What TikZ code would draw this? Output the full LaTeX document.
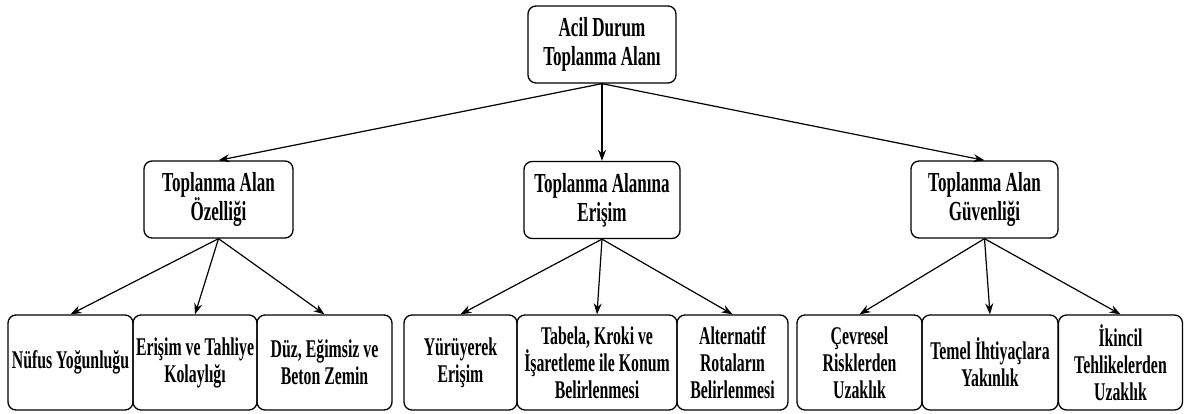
\documentclass[tikz,border=0pt]{standalone}
\usepackage{fontspec}
\usepackage{tikz}
\usetikzlibrary{arrows.meta}
\newfontfamily\boxfont[FakeStretch=0.62]{Liberation Serif}
\tikzset{>={Stealth[width=8pt,length=11pt]}}
\tikzset{
  box/.style={draw, line width=1.3pt, rounded corners=8pt, align=center,
    inner sep=0pt},
  topbox/.style={box, minimum height=77pt,
    font=\boxfont\bfseries\fontsize{27.5}{29}\selectfont},
  leafbox/.style={box, minimum height=95pt,
    font=\boxfont\bfseries\fontsize{25.5}{27}\selectfont}
}

\begin{document}
\begin{tikzpicture}[x=1pt, y=-1pt]
  \useasboundingbox (0,0) rectangle (1184,414);

  % root
  \node[topbox, minimum width=148pt] (root) at (602,44.5) {Acil Durum\\Toplanma Alanı};

  % middle row
  \node[topbox, minimum width=149pt] (ozel) at (218.5,199.5) {Toplanma Alan\\Özelliği};
  \node[topbox, minimum width=156pt] (eris) at (602,200) {Toplanma Alanına\\Erişim};
  \node[topbox, minimum width=147pt] (guv) at (984.5,199.5) {Toplanma Alan\\Güvenliği};

  % leaves
  \node[leafbox, minimum width=125pt] (nufus) at (70.5,362.5) {Nüfus Yoğunluğu};
  \node[leafbox, minimum width=124pt] (tahliye) at (195,362.5) {Erişim ve Tahliye\\Kolaylığı};
  \node[leafbox, minimum width=135pt] (zemin) at (324.5,362.5) {Düz, Eğimsiz ve\\Beton Zemin};

  \node[leafbox, minimum width=113pt] (yuru) at (460.5,362.5) {Yürüyerek\\Erişim};
  \node[leafbox, minimum width=160pt] (tabela) at (597,362.5) {Tabela, Kroki ve\\İşaretleme ile Konum\\Belirlenmesi};
  \node[leafbox, minimum width=111pt] (rota) at (732.5,362.5) {Alternatif\\Rotaların\\Belirlenmesi};

  \node[leafbox, minimum width=125pt] (cevre) at (859.5,362.5) {Çevresel\\Risklerden\\Uzaklık};
  \node[leafbox, minimum width=136pt] (temel) at (990,362.5) {Temel İhtiyaçlara\\Yakınlık};
  \node[leafbox, minimum width=124pt] (ikincil) at (1120.5,362.5) {İkincil\\Tehlikelerden\\Uzaklık};

  \draw[->, line width=1.2pt] (root.south) -- (ozel.north);
  \draw[->, line width=1.2pt] (root.south) -- (eris.north);
  \draw[->, line width=1.2pt] (root.south) -- (guv.north);

  \foreach \leaf in {nufus, tahliye, zemin}
    \draw[->, line width=1.2pt] (ozel.south) -- (\leaf.north);
  \foreach \leaf in {yuru, tabela, rota}
    \draw[->, line width=1.2pt] (eris.south) -- (\leaf.north);
  \foreach \leaf in {cevre, temel, ikincil}
    \draw[->, line width=1.2pt] (guv.south) -- (\leaf.north);
\end{tikzpicture}
\end{document}
